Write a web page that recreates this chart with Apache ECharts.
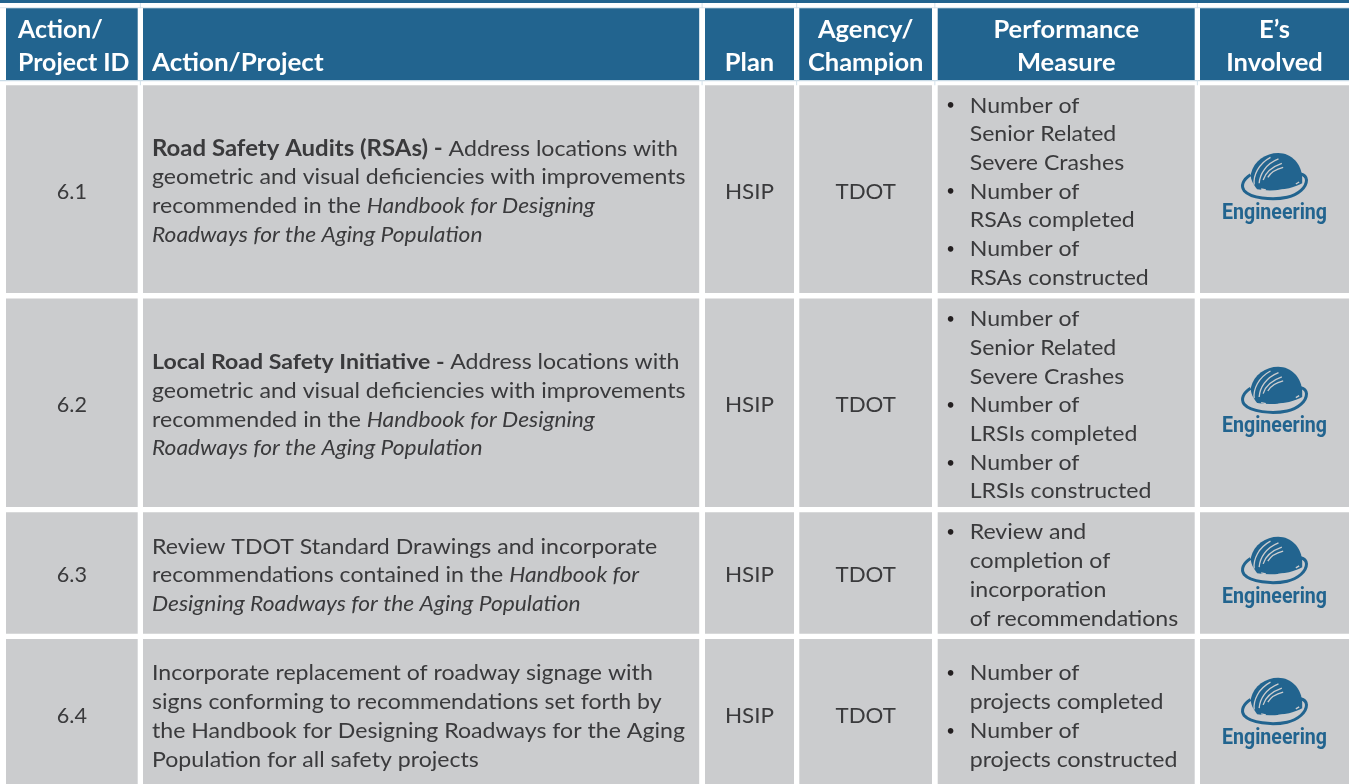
<!DOCTYPE html>
<html>
<head>
<meta charset="utf-8">
<style>html,body{margin:0;padding:0;background:#fff}#chart{width:1349px;height:784px}</style>
<script src="https://cdn.jsdelivr.net/npm/echarts@6/dist/echarts.min.js"></script>
</head>
<body>
<div id="chart"></div>
<script>
// ---------- table content ----------
var headers = [
  ['Action/', 'Project ID'],
  ['Action/Project'],
  ['Plan'],
  ['Agency/', 'Champion'],
  ['Performance', 'Measure'],
  ['E\u2019s', 'Involved']
];
var projectIds = ['6.1', '6.2', '6.3', '6.4'];
var actions = [
  ['{B|Road Safety Audits (RSAs) - }{n|Address locations with}',
   '{n|geometric and visual deficiencies with improvements}',
   '{n|recommended in the }{i|Handbook for Designing}',
   '{i|Roadways for the Aging Population}'],
  ['{b|Local Road Safety Initiative - }{n|Address locations with}',
   '{n|geometric and visual deficiencies with improvements}',
   '{n|recommended in the }{i|Handbook for Designing}',
   '{i|Roadways for the Aging Population}'],
  ['{n|Review TDOT Standard Drawings and incorporate}',
   '{n|recommendations contained in the }{i|Handbook for}',
   '{i|Designing Roadways for the Aging Population}'],
  ['{n|Incorporate replacement of roadway signage with}',
   '{n|signs conforming to recommendations set forth by}',
   '{n|the Handbook for Designing Roadways for the Aging}',
   '{n|Population for all safety projects}']
];
var plans = ['HSIP', 'HSIP', 'HSIP', 'HSIP'];
var agencies = ['TDOT', 'TDOT', 'TDOT', 'TDOT'];
var measures = [
  [['Number of', 'Senior Related', 'Severe Crashes'], ['Number of', 'RSAs completed'], ['Number of', 'RSAs constructed']],
  [['Number of', 'Senior Related', 'Severe Crashes'], ['Number of', 'LRSIs completed'], ['Number of', 'LRSIs constructed']],
  [['Review and', 'completion of', 'incorporation', 'of recommendations']],
  [['Number of', 'projects completed'], ['Number of', 'projects constructed']]
];
var involved = ['Engineering', 'Engineering', 'Engineering', 'Engineering'];

// ---------- layout and style ----------
var columnEdges = [[6, 137.7], [143, 699.2], [705, 794], [799.3, 932], [937.7, 1194.7], [1200, 1349]];
var headerEdge = [8.3, 80];
var rowEdges = [[85.3, 293], [298.6, 507], [512.3, 633.7], [639, 789]];
var BLUE = '#22648f', GREY = '#cbccce', INK = '#3a3a3c';
var FONT = 'Lato';
var BODY = 21.6, HEAD = 25.5, LINE = 28.7, STRETCH = 1.07;
var BOX = 'M0 0 L0 0 M447 300 L447 300 ';

function rect(x0, y0, x1, y1, api, fill) {
  var a = api.coord([x0, y0]), b = api.coord([x1, y1]);
  return { type: 'rect', shape: { x: a[0], y: a[1], width: b[0] - a[0], height: b[1] - a[1] }, style: { fill: fill } };
}
function label(api, x, y, text, opt, sx) {
  var p = api.coord([x, y]);
  return { type: 'text', x: p[0], y: p[1], scaleX: sx || 1, style: Object.assign({
    text: text, fill: INK, fontFamily: FONT, fontSize: BODY, lineHeight: LINE,
    align: 'center', verticalAlign: 'middle' }, opt || {}) };
}
function richStyles() {
  return {
    n: { fill: INK, fontFamily: FONT, fontSize: BODY, lineHeight: LINE },
    b: { fill: INK, fontFamily: FONT, fontSize: BODY, lineHeight: LINE, fontWeight: 'bold' },
    B: { fill: INK, fontFamily: FONT, fontSize: 22.4, lineHeight: LINE, fontWeight: 'bold' },
    i: { fill: INK, fontFamily: FONT, fontSize: 21.3, lineHeight: LINE, fontStyle: 'italic' }
  };
}
function helmetPath(d, style) {
  return { type: 'path', shape: { pathData: BOX + d, x: 0, y: 0, width: 447, height: 300, layout: 'cover' }, style: style };
}
function helmet(api, cx, cy) {
  var p = api.coord([cx, cy]);
  return {
    type: 'group', x: p[0] - 224 / 3, y: p[1] - 50, scaleX: 1 / 3, scaleY: 1 / 3,
    children: [
      helmetPath('M152 102 C130 116 122 135 133 150 C152 172 215 180 262 170 C296 162 320 140 320 118 C319 108 312 102 303 100',
        { fill: 'none', stroke: BLUE, lineWidth: 9 }),
      helmetPath('M153 100 C162 60 198 37 235 37 C275 37 306 70 307 112 L307 128 C285 142 225 156 172 146 C160 130 152 118 153 100 Z',
        { fill: BLUE }),
      helmetPath('M163 132 C160 105 175 70 212 50 M178 128 C180 100 198 70 236 55 M190 118 C196 98 212 80 246 68 M204 110 C212 96 226 86 250 80 M184 145 L198 148 M235 150 L252 148 M288 130 L298 124',
        { fill: 'none', stroke: GREY, lineWidth: 4 })
    ]
  };
}

function renderTable(params, api) {
  var kids = [];
  // top rule
  kids.push(rect(0, 0, 1349, 3, api, BLUE));
  // faint tick rules inside the white gutters
  kids.push(rect(0, 80, 1349, 81.3, api, '#c9dbe7'));
  kids.push(rect(0, 7.3, 1349, 8.3, api, '#dbe6ee'));
  for (var g = 0; g < columnEdges.length - 1; g++) {
    var gx = (columnEdges[g][1] + columnEdges[g + 1][0]) / 2;
    kids.push(rect(gx - 0.5, 3, gx + 0.5, 8.3, api, '#d3e1ea'));
    kids.push(rect(gx - 0.5, 80, gx + 0.5, 85.3, api, '#d3e1ea'));
  }
  // header
  columnEdges.forEach(function (c, i) {
    kids.push(rect(c[0], headerEdge[0], c[1], headerEdge[1], api, BLUE));
    var leftAligned = i < 2;
    var x = leftAligned ? c[0] + (i === 0 ? 12 : 9) : (c[0] + c[1]) / 2;
    kids.push(label(api, x, 79.5, headers[i].join('\n'), {
      fill: '#ffffff', fontWeight: 'bold', fontSize: HEAD, lineHeight: 33,
      align: leftAligned ? 'left' : 'center', verticalAlign: 'bottom' }, i === 0 ? 0.975 : (i === 1 ? 1.02 : 1)));
  });
  // body
  rowEdges.forEach(function (r, j) {
    var cy = (r[0] + r[1]) / 2 + 2.5;
    columnEdges.forEach(function (c) { kids.push(rect(c[0], r[0], c[1], r[1], api, GREY)); });
    kids.push(label(api, (columnEdges[0][0] + columnEdges[0][1]) / 2, cy, projectIds[j]));
    kids.push(label(api, columnEdges[1][0] + 9, cy, actions[j].join('\n'), { align: 'left', rich: richStyles() }, STRETCH));
    kids.push(label(api, (columnEdges[2][0] + columnEdges[2][1]) / 2, cy, plans[j], null, 1.04));
    kids.push(label(api, (columnEdges[3][0] + columnEdges[3][1]) / 2, cy, agencies[j], null, 1.03));
    var lines = [], bullets = [];
    measures[j].forEach(function (item) {
      item.forEach(function (t, k) { lines.push(t); bullets.push(k === 0 ? '\u2022' : ' '); });
    });
    kids.push(label(api, columnEdges[4][0] + 13, cy, bullets.join('\n'), { align: 'center', fill: '#231f20', fontSize: 15 }));
    kids.push(label(api, columnEdges[4][0] + 32, cy, lines.join('\n'), { align: 'left' }, STRETCH));
    var ex = (columnEdges[5][0] + columnEdges[5][1]) / 2;
    kids.push(helmet(api, ex, cy - 1));
    kids.push(label(api, ex, cy + 21.5, involved[j], {
      fill: BLUE, fontFamily: 'Roboto', fontWeight: 'bold', fontSize: 22 }, 0.89));
  });
  return { type: 'group', children: kids };
}

var chart = echarts.init(document.getElementById('chart'), null, { renderer: 'canvas' });
chart.setOption({
  animation: false,
  backgroundColor: '#ffffff',
  grid: { left: 0, right: 0, top: 0, bottom: 0 },
  xAxis: { type: 'value', min: 0, max: 1349, show: false },
  yAxis: { type: 'value', min: 0, max: 784, inverse: true, show: false },
  series: [{
    type: 'custom', name: 'Action table', silent: true, clip: false,
    coordinateSystem: 'cartesian2d',
    data: [[0, 0]],
    renderItem: renderTable
  }]
});
</script>
</body>
</html>
